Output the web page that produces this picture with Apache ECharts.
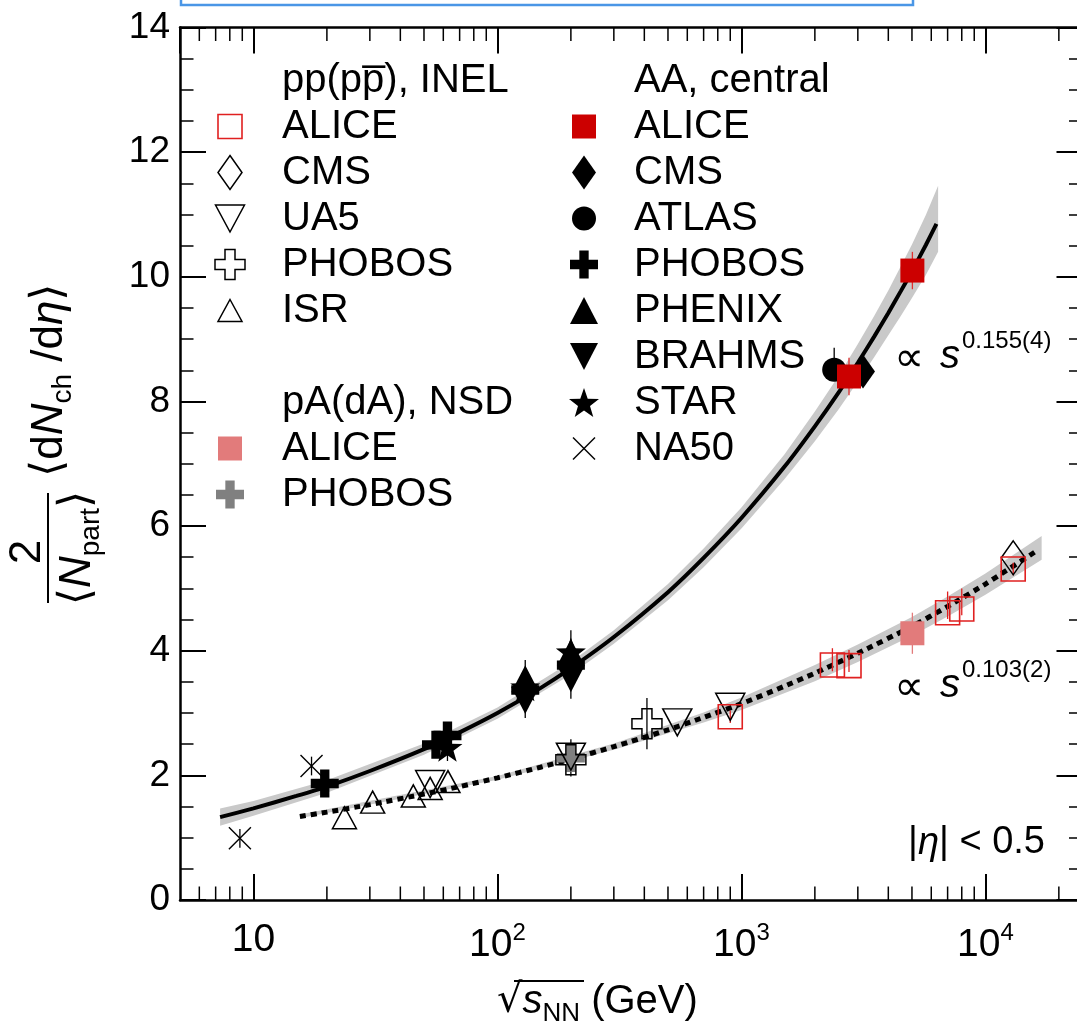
<!DOCTYPE html>
<html><head><meta charset="utf-8">
<script src="https://cdn.jsdelivr.net/npm/echarts@6/dist/echarts.min.js"></script>
<style>html,body{margin:0;padding:0;background:#fff}#c{width:1077px;height:1029px}</style>
</head><body><div id="c"></div>
<script>
// ---------------- data ----------------
const xMinorTicks = [6,7,8,9,20,30,40,50,60,70,80,90,200,300,400,500,600,700,800,900,
                     2000,3000,4000,5000,6000,7000,8000,9000,20000];

// AA, central
const aaNA50    = [[8.8, 0.99], [17.3, 2.15]];
const aaNA50Err = [[0.15, 0.15], [0.15, 0.15]];
const aaBRAHMS    = [[130, 3.20], [200, 3.55]];
const aaBRAHMSErr = [[0.28, 0.1], [0.32, 0.1]];
const aaPHENIX    = [[130, 3.55], [200, 3.97]];
const aaPHENIXErr = [[0.1, 0.3], [0.1, 0.36]];
const aaSTAR    = [[62.4, 2.45], [130, 3.42], [200, 3.98]];
const aaSTARErr = [[0.22, 0.1], [0.1, 0.1], [0.1, 0.1]];
const aaPHOBOS  = [[19.6, 1.87], [56, 2.49], [62.4, 2.64], [130, 3.37], [200, 3.77]];
const aaATLAS    = [[2400, 8.51]];
const aaATLASErr = [[0.1, 0.35]];
const aaCMS   = [[3150, 8.48]];
const aaALICE    = [[2760, 8.40], [5020, 10.10]];
const aaALICEErr = [[0.3, 0.3], [0.3, 0.3]];

// pA(dA), NSD
const pAPHOBOS    = [[200, 2.28]];
const pAPHOBOSErr = [[0.3, 0.3]];
const pAALICE    = [[5020, 4.28]];
const pAALICEErr = [[0.33, 0.33]];

// pp(ppbar), INEL
const ppISR    = [[23.6, 1.32], [30.8, 1.57], [45.2, 1.67], [53, 1.79], [62.7, 1.90]];
const ppPHOBOS    = [[200, 2.25], [410, 2.83]];
const ppPHOBOSErr = [[0.1, 0.1], [0.41, 0.41]];
const ppUA5    = [[53, 1.86], [200, 2.30], [546, 2.85], [900, 3.10]];
const ppCMS    = [[13000, 5.49]];
const ppALICE    = [[900, 2.94], [2360, 3.77], [2760, 3.76], [7000, 4.61], [8000, 4.67], [13000, 5.31]];
const ppALICEErr = [[0.1, 0.1], [0.1, 0.27], [0.1, 0.25], [0.1, 0.34], [0.1, 0.33], [0.1, 0.1]];

// fit curves
const aaFitX = [7.3, 10, 15, 20, 30, 50, 70, 100, 150, 200, 300, 500, 700, 1000, 1500, 2000, 2500, 3000, 3500, 4000, 4500, 5000, 5700, 6300];
const aaFitY = [1.33, 1.47, 1.67, 1.82, 2.07, 2.42, 2.69, 3.00, 3.40, 3.72, 4.22, 4.94, 5.49, 6.13, 6.95, 7.60, 8.14, 8.62, 9.04, 9.42, 9.77, 10.09, 10.51, 10.85];
const aaBandX  = [7.3, 10, 20, 50, 100, 200, 300, 500, 700, 1000, 1500, 2000, 2500, 3000, 3500, 4000, 4500, 5000, 5700, 6400];
const aaBandLo = [1.19, 1.35, 1.72, 2.33, 2.91, 3.62, 4.11, 4.81, 5.34, 5.96, 6.75, 7.36, 7.87, 8.32, 8.71, 9.06, 9.37, 9.66, 10.03, 10.40];
const aaBandHi = [1.47, 1.59, 1.92, 2.51, 3.09, 3.82, 4.33, 5.07, 5.64, 6.30, 7.15, 7.84, 8.41, 8.92, 9.37, 9.78, 10.17, 10.52, 10.99, 11.46];

const ppFitX = [15.5, 20, 30, 50, 70, 100, 150, 200, 300, 500, 700, 1000, 1500, 2000, 3000, 5000, 7000, 10000, 15900];
const ppFitY = [1.34, 1.41, 1.53, 1.70, 1.82, 1.96, 2.13, 2.26, 2.46, 2.73, 2.93, 3.15, 3.43, 3.64, 3.96, 4.39, 4.71, 5.07, 5.58];
const ppBandX  = [15.5, 100, 300, 700, 1000, 2000, 3000, 5000, 7000, 10000, 17000];
const ppBandLo = [1.31, 1.93, 2.41, 2.85, 3.05, 3.51, 3.82, 4.24, 4.55, 4.90, 5.46];
const ppBandHi = [1.37, 1.99, 2.51, 3.01, 3.25, 3.77, 4.10, 4.54, 4.87, 5.24, 5.84];

// legend text
const legendLeftRows  = [['pp(pp\u0305), INEL', null], ['ALICE', 'ppALICE'], ['CMS', 'ppCMS'], ['UA5', 'ppUA5'],
                         ['PHOBOS', 'ppPHOBOS'], ['ISR', 'ppISR'], null, ['pA(dA), NSD', null],
                         ['ALICE', 'pAALICE'], ['PHOBOS', 'pAPHOBOS']];
const legendRightRows = [['AA, central', null], ['ALICE', 'aaALICE'], ['CMS', 'aaCMS'], ['ATLAS', 'aaATLAS'],
                         ['PHOBOS', 'aaPHOBOS'], ['PHENIX', 'aaPHENIX'], ['BRAHMS', 'aaBRAHMS'], ['STAR', 'aaSTAR'],
                         ['NA50', 'aaNA50']];

// ---------------- styling ----------------
const FONT = 'Liberation Sans, Arial, Helvetica, sans-serif';
const SYMF = 'DejaVu Sans, Liberation Sans, sans-serif';
const SHAPES = {
  square:  [[0,0],[10,0],[10,10],[0,10]],
  diamond: [[5,0],[10,7],[5,14],[0,7]],
  triUp:   [[5,0],[10,10],[0,10]],
  triDown: [[0,0],[10,0],[5,10]],
  cross:   [[10,0],[20,0],[20,10],[30,10],[30,20],[20,20],[20,30],[10,30],[10,20],[0,20],[0,10],[10,10]],
  star:    [[50,0],[61.76,33.82],[97.55,34.55],[69.02,56.18],[79.39,90.45],[50,70],[20.61,90.45],[30.98,56.18],[2.45,34.55],[38.24,33.82]]
};
const XMARK_PATH = 'path://M0,0L10,10M10,0L0,10';
function symbolOf(name) {
  if (name === 'circle') return 'circle';
  if (name === 'xmark') return XMARK_PATH;
  return 'path://M' + SHAPES[name].map(p => p.join(',')).join('L') + 'Z';
}
function fitPoints(name, cx, cy, w, h) {
  const pts = SHAPES[name];
  const xs = pts.map(p => p[0]), ys = pts.map(p => p[1]);
  const x0 = Math.min(...xs), x1 = Math.max(...xs), y0 = Math.min(...ys), y1 = Math.max(...ys);
  return pts.map(p => [cx - w / 2 + (p[0] - x0) / (x1 - x0) * w, cy - h / 2 + (p[1] - y0) / (y1 - y0) * h]);
}
const OPEN = 'rgba(0,0,0,0)';
const markerDefs = {
  aaNA50:   {data: aaNA50,   err: aaNA50Err,   sym: 'xmark',   size: [22, 22], fill: 'none', stroke: '#000', lw: 1.4},
  aaBRAHMS: {data: aaBRAHMS, err: aaBRAHMSErr, sym: 'triDown', size: [28, 27], fill: '#000'},
  aaPHENIX: {data: aaPHENIX, err: aaPHENIXErr, sym: 'triUp',   size: [28, 27], fill: '#000'},
  aaSTAR:   {data: aaSTAR,   err: aaSTARErr,   sym: 'star',    size: [30, 29], fill: '#000'},
  aaPHOBOS: {data: aaPHOBOS, err: null,        sym: 'cross',   size: [28, 28], fill: '#000'},
  aaATLAS:  {data: aaATLAS,  err: aaATLASErr,  sym: 'circle',  size: [24, 24], fill: '#000'},
  aaCMS:    {data: aaCMS,    err: null,        sym: 'diamond', size: [24, 34], fill: '#000'},
  aaALICE:  {data: aaALICE,  err: aaALICEErr,  sym: 'square',  size: [24, 24], fill: '#cc0000', errColor: '#e03030'},
  pAPHOBOS: {data: pAPHOBOS, err: pAPHOBOSErr, sym: 'cross',   size: [28, 28], fill: '#808080'},
  pAALICE:  {data: pAALICE,  err: pAALICEErr,  sym: 'square',  size: [24, 24], fill: '#e27b7b', errColor: '#e27b7b'},
  ppISR:    {data: ppISR,    err: null,        sym: 'triUp',   size: [24, 22], fill: OPEN, stroke: '#000', lw: 1.5},
  ppPHOBOS: {data: ppPHOBOS, err: ppPHOBOSErr, sym: 'cross',   size: [30, 30], fill: OPEN, stroke: '#000', lw: 1.5},
  ppUA5:    {data: ppUA5,    err: null,        sym: 'triDown', size: [29, 27], fill: OPEN, stroke: '#000', lw: 1.5},
  ppCMS:    {data: ppCMS,    err: null,        sym: 'diamond', size: [24, 34], fill: OPEN, stroke: '#000', lw: 1.5},
  ppALICE:  {data: ppALICE,  err: ppALICEErr,  sym: 'square',  size: [24, 24], fill: OPEN, stroke: '#e02020', lw: 1.6, errColor: '#e02020'}
};
const drawOrder = ['aaNA50','aaBRAHMS','aaPHENIX','aaSTAR','aaPHOBOS','aaATLAS','aaCMS','aaALICE',
                   'pAPHOBOS','ppISR','ppUA5','ppPHOBOS','pAALICE','ppCMS','ppALICE'];

const zip = (xs, ys) => xs.map((x, i) => [x, ys[i]]);

function bandSeries(xs, lo, hi) {
  return {
    type: 'custom', silent: true, z: 1, data: [[xs[0], lo[0]]],
    renderItem: (params, api) => {
      const pts = [];
      for (let i = 0; i < xs.length; i++) pts.push(api.coord([xs[i], hi[i]]));
      for (let i = xs.length - 1; i >= 0; i--) pts.push(api.coord([xs[i], lo[i]]));
      return {type: 'polygon', shape: {points: pts}, style: {fill: '#c9c9c9'}};
    }
  };
}
function errSeries(data, err, color) {
  return {
    type: 'custom', silent: true, z: 3,
    data: data.map((d, i) => [d[0], d[1], err[i][0], err[i][1]]),
    renderItem: (params, api) => {
      const x = api.value(0), y = api.value(1);
      const a = api.coord([x, y - api.value(2)]), b = api.coord([x, y + api.value(3)]);
      return {type: 'line', shape: {x1: a[0], y1: a[1], x2: b[0], y2: b[1]}, style: {stroke: color, lineWidth: 1.3}};
    }
  };
}

const series = [];
series.push(bandSeries(aaBandX, aaBandLo, aaBandHi));
series.push(bandSeries(ppBandX, ppBandLo, ppBandHi));
series.push({type: 'line', data: zip(aaFitX, aaFitY), symbol: 'none', smooth: 0.2, silent: true, z: 2,
  lineStyle: {color: '#000', width: 4}});
series.push({type: 'line', data: zip(ppFitX, ppFitY), symbol: 'none', smooth: 0.2, silent: true, z: 2,
  lineStyle: {color: '#000', width: 5, type: [6, 5]}});
// x minor ticks (bottom and top)
series.push({
  type: 'custom', silent: true, z: 5, data: xMinorTicks.map(v => [v, 0]),
  renderItem: (params, api) => {
    const v = api.value(0);
    const b = api.coord([v, 0]), t = api.coord([v, 14]);
    return {type: 'group', children: [
      {type: 'line', shape: {x1: b[0], y1: b[1], x2: b[0], y2: b[1] - 13.5}, style: {stroke: '#000', lineWidth: 1.5}},
      {type: 'line', shape: {x1: t[0], y1: t[1], x2: t[0], y2: t[1] + 13.5}, style: {stroke: '#000', lineWidth: 1.5}}
    ]};
  }
});
drawOrder.forEach(k => {
  const m = markerDefs[k];
  if (m.err) series.push(errSeries(m.data, m.err, m.errColor || '#000'));
  series.push({
    type: 'scatter', name: k, data: m.data, z: 4,
    symbol: symbolOf(m.sym), symbolSize: m.size, silent: true,
    itemStyle: {color: m.fill, borderColor: m.stroke || m.fill, borderWidth: m.stroke ? m.lw : 0, opacity: 1}
  });
});

// ---------------- graphics: legend, annotations, titles ----------------
const graphics = [];
function legendMarker(key, cx, cy) {
  const m = markerDefs[key];
  const w = m.size[0], h = m.size[1];
  const style = {fill: (m.fill === OPEN || m.fill === 'none') ? 'none' : m.fill, stroke: m.stroke || null, lineWidth: m.stroke ? m.lw : 0};
  if (m.sym === 'circle') return [{type: 'circle', shape: {cx: cx, cy: cy, r: w / 2}, style: style}];
  if (m.sym === 'xmark') return [
    {type: 'line', shape: {x1: cx - w / 2, y1: cy - h / 2, x2: cx + w / 2, y2: cy + h / 2}, style: style},
    {type: 'line', shape: {x1: cx + w / 2, y1: cy - h / 2, x2: cx - w / 2, y2: cy + h / 2}, style: style}];
  return [{type: 'polygon', shape: {points: fitPoints(m.sym, cx, cy, w, h)}, style: style}];
}
function addLegend(rows, mx, tx) {
  rows.forEach((r, k) => {
    if (!r) return;
    const cy = 80.5 + 46 * k;
    if (r[1]) legendMarker(r[1], mx, cy).forEach(g => graphics.push(g));
    graphics.push({type: 'text', x: tx, y: cy, style: {text: r[0], fontSize: 40, fontFamily: FONT, fill: '#000', align: 'left', verticalAlign: 'middle'}});
  });
}
addLegend(legendLeftRows, 230, 282);
addLegend(legendRightRows, 584, 634);

function powerLabel(ymid, expo) {
  graphics.push({type: 'text', x: 909, y: ymid + 3, style: {text: '\u221D', fontSize: 42, fontFamily: SYMF, fill: '#000', align: 'center', verticalAlign: 'middle'}});
  graphics.push({type: 'text', x: 940, y: ymid, style: {text: 's', fontSize: 40, fontStyle: 'italic', fontFamily: FONT, fill: '#000', align: 'left', verticalAlign: 'middle'}});
  graphics.push({type: 'text', x: 962, y: ymid - 16, style: {text: expo, fontSize: 24, fontFamily: FONT, fill: '#000', align: 'left', verticalAlign: 'middle'}});
}
powerLabel(357, '0.155(4)');
powerLabel(686, '0.103(2)');

graphics.push({type: 'text', x: 1045, y: 843, style: {
  text: '{t||}{i|\u03B7}{t|| < 0.5}', align: 'right', verticalAlign: 'middle',
  rich: {t: {fontSize: 38, fontFamily: FONT, fill: '#000'}, i: {fontSize: 38, fontFamily: FONT, fontStyle: 'italic', fill: '#000'}}
}});

// x axis title
graphics.push({type: 'text', x: 497, y: 1002, style: {
  text: '{r|\u221A}{s|s}{sub|NN}{t| (GeV)}', align: 'left', verticalAlign: 'middle',
  rich: {
    r: {fontSize: 40, fontFamily: SYMF, fill: '#000'},
    s: {fontSize: 40, fontFamily: FONT, fontStyle: 'italic', fill: '#000'},
    sub: {fontSize: 26, fontFamily: FONT, fill: '#000', padding: [24, 0, 0, 0]},
    t: {fontSize: 40, fontFamily: FONT, fill: '#000'}
  }
}});
graphics.push({type: 'line', shape: {x1: 514, y1: 981, x2: 584, y2: 981}, style: {stroke: '#000', lineWidth: 1.8}});

// y axis title (rotated)
const yRich = {
  br: {fontSize: 44, fontFamily: SYMF, fill: '#000'},
  t: {fontSize: 44, fontFamily: FONT, fill: '#000'},
  i: {fontSize: 44, fontFamily: FONT, fontStyle: 'italic', fill: '#000'},
  sub: {fontSize: 28, fontFamily: FONT, fill: '#000', padding: [26, 0, 0, 0]}
};
graphics.push({type: 'group', x: 48, y: 548, rotation: Math.PI / 2, children: [
  {type: 'text', x: -4, y: -20, style: {text: '2', fontSize: 44, fontFamily: FONT, fill: '#000', align: 'center', verticalAlign: 'middle'}},
  {type: 'line', shape: {x1: -55, y1: 0, x2: 55, y2: 0}, style: {stroke: '#000', lineWidth: 2}},
  {type: 'text', x: 0, y: 30, style: {text: '{br|\u27E8}{i|N}{sub|part}{br|\u27E9}', align: 'center', verticalAlign: 'middle', rich: yRich}},
  {type: 'text', x: 71, y: 2, style: {text: '{br|\u27E8}{t|d}{i|N}{sub|ch}{t| /d}{i|\u03B7}{br|\u27E9}', align: 'left', verticalAlign: 'middle', rich: yRich}}
]});

// blue frame fragment at the very top
graphics.push({type: 'rect', shape: {x: 181, y: -30, width: 732, height: 35}, style: {fill: 'none', stroke: '#4a96e6', lineWidth: 2.5}});

// ---------------- axes ----------------
const axisLine = {show: true, onZero: false, lineStyle: {color: '#000', width: 2.5}};
const majorTick = {show: true, inside: true, length: 26, lineStyle: {color: '#000', width: 2}};
const xBase = {type: 'log', logBase: 10, min: 5, max: 25000, axisLine: axisLine, axisTick: majorTick,
  splitLine: {show: false}, minorTick: {show: false}, minorSplitLine: {show: false}};
const yBase = {type: 'value', min: 0, max: 14, interval: 2, axisLine: axisLine, axisTick: majorTick,
  minorTick: {show: true, splitNumber: 4, length: 13.5, lineStyle: {color: '#000', width: 1.5}},
  splitLine: {show: false}, minorSplitLine: {show: false}};

const option = {
  animation: false,
  backgroundColor: '#fff',
  grid: {left: 180, top: 27.5, width: 902.5, height: 872.5, containLabel: false, outerBoundsMode: 'none'},
  xAxis: [
    Object.assign({}, xBase, {position: 'bottom', axisLabel: {
      show: true, margin: 21, showMinLabel: false, showMaxLabel: false, hideOverlap: false,
      formatter: v => {
        const l = Math.log10(v), e = Math.round(l);
        if (Math.abs(l - e) > 1e-6) return '';
        return e === 1 ? '{m|10}' : '{m|10}{s|' + e + '}';
      },
      rich: {m: {fontSize: 39, fontFamily: FONT, color: '#000'},
             s: {fontSize: 24, fontFamily: FONT, color: '#000', padding: [0, 0, 24, 0]}}
    }}),
    Object.assign({}, xBase, {position: 'top', axisLabel: {show: false}})
  ],
  yAxis: [
    Object.assign({}, yBase, {position: 'left', axisLabel: {show: true, margin: 10, fontSize: 37, fontFamily: FONT, color: '#000'}}),
    Object.assign({}, yBase, {position: 'right', axisLabel: {show: false}})
  ],
  series: series,
  graphic: graphics
};
const chart = echarts.init(document.getElementById('c'), null, {renderer: 'canvas', width: 1077, height: 1029});
chart.setOption(option);
</script>
</body></html>
